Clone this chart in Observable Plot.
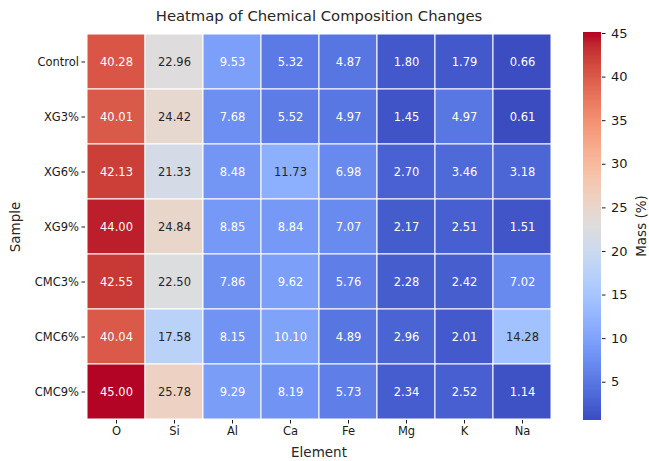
<!DOCTYPE html>
<html><head><meta charset="utf-8">
<script src="https://cdn.jsdelivr.net/npm/d3@7"></script>
<script src="https://cdn.jsdelivr.net/npm/@observablehq/plot@0.6"></script>
<style>
body{margin:0;background:#fff;font-family:"DejaVu Sans",sans-serif;}
#wrap{position:relative;width:649px;height:461px;}
#wrap > svg{position:absolute;top:0;}
#title{position:absolute;left:0;width:638px;top:7px;text-align:center;font-size:14.8px;color:#262626;}
.lbl{position:absolute;font-size:13.5px;color:#262626;white-space:nowrap;}
#xl{left:0;width:638px;top:444px;text-align:center;}
#yl{left:15px;top:227px;transform:translate(-50%,-50%) rotate(-90deg);}
#cl{left:641px;top:226px;transform:translate(-50%,-50%) rotate(-90deg);}
</style></head>
<body>
<div id="wrap">
<div id="title">Heatmap of Chemical Composition Changes</div>
<div class="lbl" id="xl">Element</div>
<div class="lbl" id="yl">Sample</div>
<div class="lbl" id="cl">Mass (%)</div>
</div>
<script>
const elements = ["O","Si","Al","Ca","Fe","Mg","K","Na"];
const samples = ["Control","XG3%","XG6%","XG9%","CMC3%","CMC6%","CMC9%"];
const control = [40.28,22.96,9.53,5.32,4.87,1.80,1.79,0.66];
const xg3 = [40.01,24.42,7.68,5.52,4.97,1.45,4.97,0.61];
const xg6 = [42.13,21.33,8.48,11.73,6.98,2.70,3.46,3.18];
const xg9 = [44.00,24.84,8.85,8.84,7.07,2.17,2.51,1.51];
const cmc3 = [42.55,22.50,7.86,9.62,5.76,2.28,2.42,7.02];
const cmc6 = [40.04,17.58,8.15,10.10,4.89,2.96,2.01,14.28];
const cmc9 = [45.00,25.78,9.29,8.19,5.73,2.34,2.52,1.14];
const colorbarTicks = [5,10,15,20,25,30,35,40,45];
// matplotlib "coolwarm" (Moreland) control colours
const coolwarm = ["#3b4cc0","#445acc","#4d68d7","#5775e1","#6282ea","#6c8ef1","#779af7","#82a5fb","#8db0fe","#98b9ff","#a3c2ff","#aec9fd","#b8d0f9","#c2d5f4","#ccd9ee","#d5dbe6","#dddddd","#e5d8d1","#ecd3c5","#f1ccb9","#f5c4ad","#f7bba0","#f7b194","#f7a687","#f49a7b","#f18d6f","#ec7f63","#e57058","#de604d","#d55042","#cb3e38","#c0282f","#b40426"];
const interp = d3.piecewise(d3.interpolateRgb, coolwarm);

const rows = [control,xg3,xg6,xg9,cmc3,cmc6,cmc9];
const data = [];
samples.forEach((s,i)=>elements.forEach((e,j)=>data.push({sample:s, element:e, value:rows[i][j]})));
const all = data.map(d=>d.value);
const vmin = d3.min(all), vmax = d3.max(all);
const colorOpts = {type:"linear", domain:[vmin,vmax], interpolate: () => interp};

function lum(c){
  const r = d3.rgb(c);
  const f = v => { v/=255; return v<=0.03928 ? v/12.92 : Math.pow((v+0.055)/1.055,2.4); };
  return 0.2126*f(r.r)+0.7152*f(r.g)+0.0722*f(r.b);
}
const textColor = d => lum(interp((d.value-vmin)/(vmax-vmin))) > 0.408 ? "#262626" : "#ffffff";

const main = Plot.plot({
  width:649, height:461,
  marginLeft:85, marginRight:96, marginTop:33, marginBottom:41,
  style:{fontFamily:"DejaVu Sans", fontSize:"11.5px", color:"#1a1a1a", background:"transparent"},
  x:{domain:elements, padding:0},
  y:{domain:samples, padding:0},
  color:colorOpts,
  marks:[
    Plot.cell(data,{x:"element", y:"sample", fill:"value", stroke:"#fff", strokeWidth:1}),
    Plot.text(data,{x:"element", y:"sample", text:d=>d.value.toFixed(2), fill:textColor, fontSize:11.5}),
    Plot.axisX({tickSize:3.5, tickPadding:3, fontSize:11.5, label:null}),
    Plot.axisY({tickSize:3.5, tickPadding:3, fontSize:11.5, label:null})
  ]
});
main.style.left = "0px";
document.getElementById("wrap").appendChild(main);

const steps = d3.range(0,300).map(i => ({y1: vmin+(vmax-vmin)*i/300, y2: vmin+(vmax-vmin)*(i+1)/300}));
const bar = Plot.plot({
  width:50, height:461,
  marginLeft:0, marginRight:32, marginTop:33, marginBottom:41,
  style:{fontFamily:"DejaVu Sans", fontSize:"13px", color:"#1a1a1a", background:"transparent"},
  x:{domain:[0,1], axis:null},
  y:{domain:[vmin,vmax]},
  color:colorOpts,
  marks:[
    Plot.rect(steps,{x1:0,x2:1,y1:"y1",y2:d=>d.y2+0.08,fill:d=>(d.y1+d.y2)/2, shapeRendering:"crispEdges"}),
    Plot.axisY({anchor:"right", ticks:colorbarTicks, tickSize:3.5, tickPadding:6, fontSize:13, label:null})
  ]
});
bar.style.left = "583px";
document.getElementById("wrap").appendChild(bar);
</script>
</body></html>
